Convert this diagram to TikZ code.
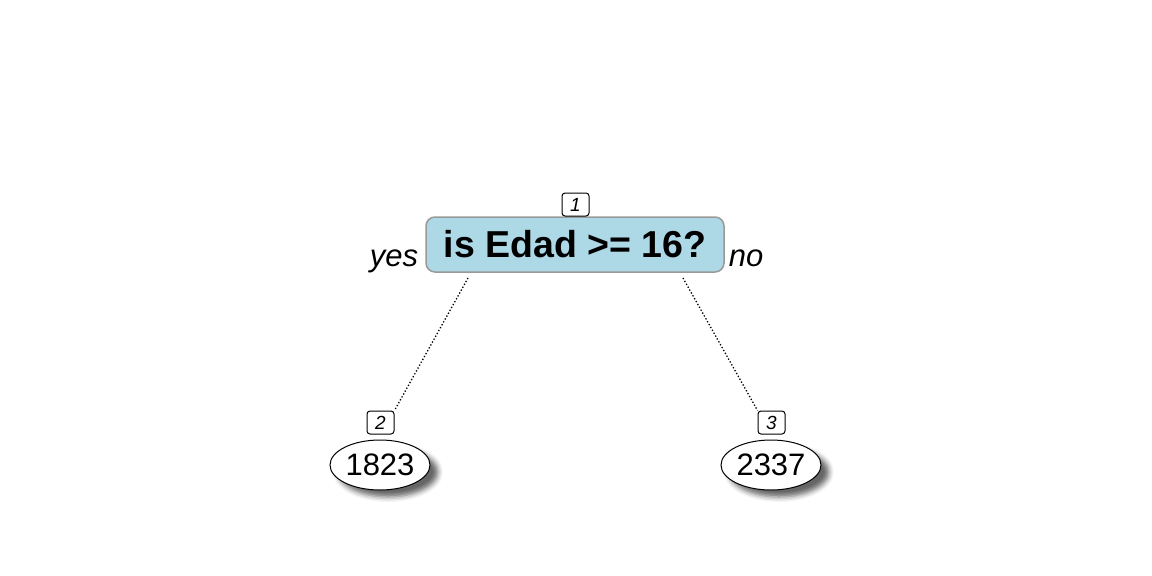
\documentclass[tikz,border=0pt]{standalone}
\usepackage{fontspec}
\setmainfont{Liberation Sans}
\usetikzlibrary{shapes.geometric,shadows.blur}
\begin{document}
\begin{tikzpicture}[x=1pt,y=-1pt,
  splitbox/.style={draw=gray!80,line width=1.5pt,fill={rgb,255:red,173;green,216;blue,230},rounded corners=9pt,minimum width=298pt,minimum height=55pt,inner sep=0pt,font=\fontsize{37.5}{42}\selectfont\bfseries},
  numbox/.style={draw=black,line width=1pt,fill=white,rounded corners=3pt,minimum width=27pt,minimum height=23pt,inner sep=0pt,font=\fontsize{19}{22}\selectfont\itshape},
  leaf/.style={ellipse,draw=black,line width=1pt,fill=white,minimum width=100pt,minimum height=50pt,inner sep=0pt,font=\fontsize{31}{36}\selectfont,
    blur shadow={shadow xshift=8pt,shadow yshift=-7pt,shadow blur radius=5pt,shadow opacity=60}},
  side/.style={font=\fontsize{31}{34}\selectfont\itshape},
  conn/.style={dotted,line width=1.3pt}]
\useasboundingbox (0,0) rectangle (1152,576);
\node[splitbox] (root) at (575,244.5) {\raisebox{-3pt}{is Edad >= 16?}};
\node[numbox] (n1) at (575.5,204.5) {1};
\node[side] (yes) at (394,261) {yes};
\node[side] (no) at (746,258) {no};
\node[leaf] (l2) at (380,465) {1823};
\node[leaf] (l3) at (771,465) {2337};
\node[numbox] (n2) at (380.5,422.5) {2};
\node[numbox] (n3) at (771.5,422.5) {3};
\coordinate (r1) at (468,278);
\coordinate (r2) at (683,278);
\draw[conn] (r1) -- (n2.north east);
\draw[conn] (r2) -- (n3.north west);
\end{tikzpicture}
\end{document}
